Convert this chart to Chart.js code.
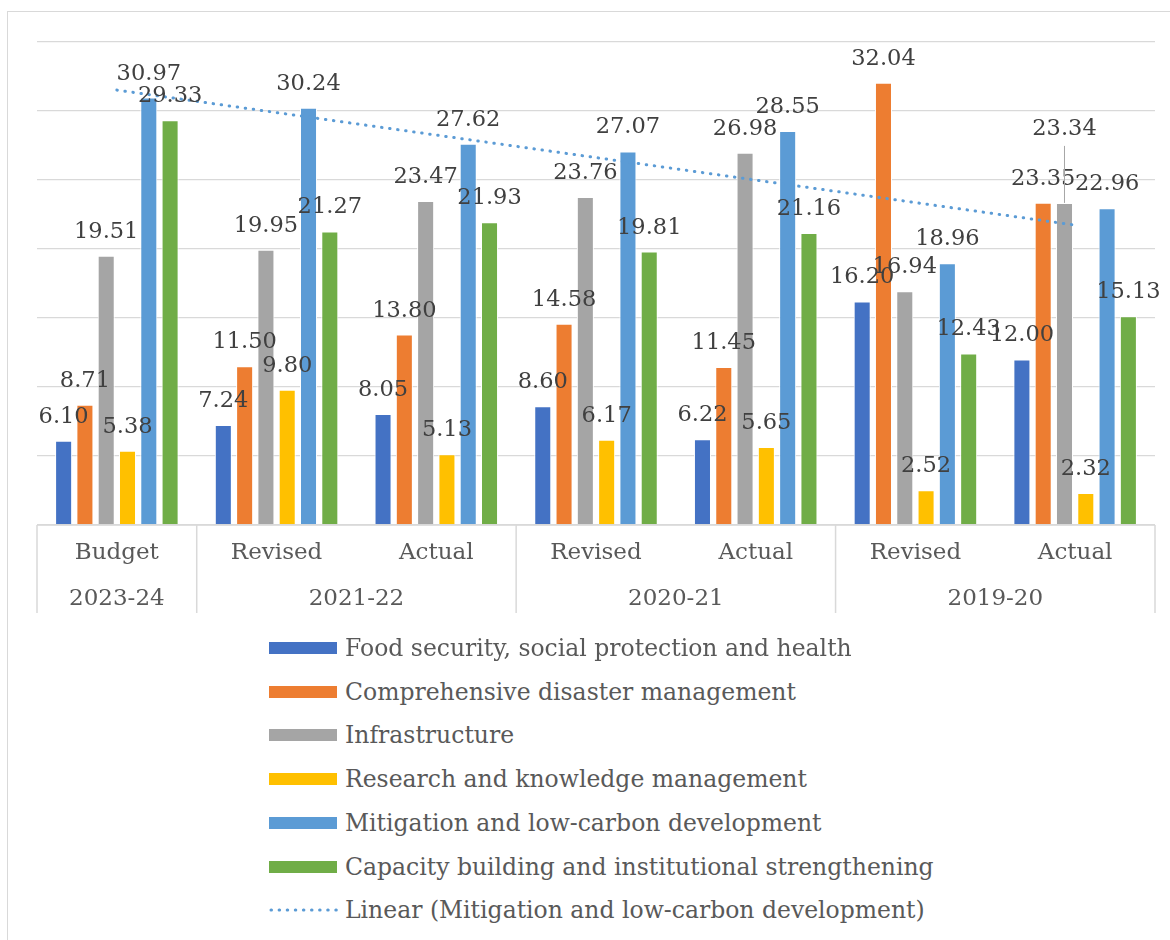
<!DOCTYPE html>
<html><head><meta charset="utf-8">
<script src="https://cdn.jsdelivr.net/npm/chart.js@4.4.0/dist/chart.umd.min.js"></script>
<style>
html,body{margin:0;padding:0;background:#fff;width:1170px;height:940px;overflow:hidden;font-family:"DejaVu Serif",serif;}
#frame{position:absolute;left:7px;top:11px;width:1220px;height:1000px;border:1.5px solid #D9D9D9;box-sizing:border-box;}
#wrap{position:absolute;left:0;top:0;width:1170px;height:640px;}
#legend{position:absolute;left:269px;top:0;}
.item{position:absolute;left:0;height:26px;display:flex;align-items:center;}
.sw{width:68px;height:12px;margin-right:8px;flex:none;}
.txt{font-size:23.5px;color:#595959;white-space:nowrap;font-family:"DejaVu Serif",serif;}
</style></head>
<body>
<div id="frame"></div>
<div id="wrap"><canvas id="c" width="1170" height="640"></canvas></div>
<div id="legend"></div>
<script>
// ---- data ----
const categories = ['Budget','Revised','Actual','Revised','Actual','Revised','Actual'];
const years = ['2023-24','2021-22','2021-22','2020-21','2020-21','2019-20','2019-20'];
const foodSecurity = [6.10, 7.24, 8.05, 8.60, 6.22, 16.20, 12.00];
const disasterMgmt = [8.71, 11.50, 13.80, 14.58, 11.45, 32.04, 23.35];
const infrastructure = [19.51, 19.95, 23.47, 23.76, 26.98, 16.94, 23.34];
const research = [5.38, 9.80, 5.13, 6.17, 5.65, 2.52, 2.32];
const mitigation = [30.97, 30.24, 27.62, 27.07, 28.55, 18.96, 22.96];
const capacity = [29.33, 21.27, 21.93, 19.81, 21.16, 12.43, 15.13];
const seriesNames = ['Food security, social protection and health','Comprehensive disaster management','Infrastructure','Research and knowledge management','Mitigation and low-carbon development','Capacity building and institutional strengthening'];
const trendName = 'Linear (Mitigation and low-carbon development)';
const yTicks = {min:0, max:35, step:5};

// linear least-squares trend of mitigation
function linearTrend(v){
  const n=v.length; const xs=v.map((_,i)=>i+1);
  const mx=xs.reduce((a,b)=>a+b,0)/n, my=v.reduce((a,b)=>a+b,0)/n;
  let sxy=0,sxx=0; xs.forEach((x,i)=>{sxy+=(x-mx)*(v[i]-my);sxx+=(x-mx)*(x-mx);});
  const s=sxy/sxx; return xs.map(x=>my+s*(x-mx));
}

const colors=['#4472C4','#ED7D31','#A5A5A5','#FFC000','#5B9BD5','#70AD47'];
const allSeries=[foodSecurity,disasterMgmt,infrastructure,research,mitigation,capacity];
const LABEL_FONT='22.5px "DejaVu Serif"';
const AXIS_FONT='23px "DejaVu Serif"';

const barDatasets=allSeries.map((d,i)=>({
  type:'bar', label:seriesNames[i], data:d, backgroundColor:colors[i],
  borderColor:'#ffffff', borderWidth:1, categoryPercentage:0.8, barPercentage:0.8, order:1
}));
const trendDataset={type:'line', label:trendName, data:linearTrend(mitigation), borderColor:'#5B9BD5',
  borderWidth:3, borderDash:[0.5,7.6], borderCapStyle:'round', pointRadius:0, tension:0, fill:false, order:0};

const labelPlugin={
  id:'barLabels',
  afterDatasetsDraw(chart,args,opts){
    const ctx=chart.ctx; ctx.save();
    ctx.font=LABEL_FONT; ctx.fillStyle='#404040'; ctx.textAlign='center'; ctx.textBaseline='alphabetic';
    chart.data.datasets.forEach((ds,di)=>{
      if(ds.type!=='bar') return;
      const meta=chart.getDatasetMeta(di);
      meta.data.forEach((bar,i)=>{
        let y=bar.y-18;
        const sh=(opts.shifts||[]).find(s=>s.d===di&&s.i===i);
        if(sh){
          y+=sh.dy;
          ctx.strokeStyle='#A6A6A6'; ctx.lineWidth=1;
          ctx.beginPath(); ctx.moveTo(bar.x,y+11); ctx.lineTo(bar.x,bar.y); ctx.stroke();
        }
        ctx.fillText(ds.data[i].toFixed(2),bar.x,y);
      });
    });
    ctx.restore();
  }
};

const axisPlugin={
  id:'twoLevelAxis',
  afterDraw(chart){
    const ctx=chart.ctx, a=chart.chartArea, x=chart.scales.x;
    const half=(x.getPixelForValue(1)-x.getPixelForValue(0))/2;
    ctx.save();
    ctx.strokeStyle='#D9D9D9'; ctx.lineWidth=1.5;
    ctx.beginPath(); ctx.moveTo(a.left,a.bottom); ctx.lineTo(a.right,a.bottom); ctx.stroke();
    ctx.font=AXIS_FONT; ctx.fillStyle='#595959'; ctx.textAlign='center'; ctx.textBaseline='alphabetic';
    categories.forEach((c,i)=>ctx.fillText(c,x.getPixelForValue(i),a.bottom+34));
    let start=0; const seps=[x.getPixelForValue(0)-half];
    for(let i=1;i<=years.length;i++){
      if(i===years.length||years[i]!==years[start]){
        const l=x.getPixelForValue(start)-half, r=x.getPixelForValue(i-1)+half;
        ctx.fillText(years[start],(l+r)/2,a.bottom+80);
        seps.push(r); start=i;
      }
    }
    seps.forEach(px=>{ctx.beginPath();ctx.moveTo(px,a.bottom);ctx.lineTo(px,a.bottom+88);ctx.stroke();});
    ctx.restore();
  }
};

const chart=new Chart(document.getElementById('c'),{
  data:{labels:categories,datasets:[...barDatasets,trendDataset]},
  options:{
    responsive:false, devicePixelRatio:1, animation:false,
    layout:{padding:{left:37,right:15,top:42,bottom:115}},
    plugins:{legend:{display:false},tooltip:{enabled:false},
      barLabels:{shifts:[{d:2,i:6,dy:-50}]}},
    scales:{
      x:{display:false, offset:true},
      y:{min:yTicks.min,max:yTicks.max,
        ticks:{display:false,stepSize:yTicks.step},
        border:{display:false},
        grid:{color:'#D9D9D9',lineWidth:1.3,drawTicks:false},
        afterFit:s=>{s.width=0;}}
    }
  },
  plugins:[labelPlugin,axisPlugin]
});

// HTML legend built from the chart's datasets
const leg=document.getElementById('legend');
chart.data.datasets.forEach((ds,i)=>{
  const row=document.createElement('div'); row.className='item';
  row.style.top=(648+i*43.7-13)+'px';
  let sw;
  if(ds.type==='bar'){
    sw=document.createElement('div'); sw.className='sw'; sw.style.background=ds.backgroundColor;
  } else {
    sw=document.createElementNS('http://www.w3.org/2000/svg','svg');
    sw.setAttribute('width','70'); sw.setAttribute('height','12'); sw.style.marginRight='6px'; sw.style.flex='none';
    sw.innerHTML='<line x1="2" y1="6" x2="68" y2="6" stroke="'+ds.borderColor+'" stroke-width="3" stroke-linecap="round" stroke-dasharray="0.5 7.6"/>';
  }
  const t=document.createElement('span'); t.className='txt'; t.textContent=ds.label;
  row.appendChild(sw); row.appendChild(t); leg.appendChild(row);
});
</script>
</body></html>
